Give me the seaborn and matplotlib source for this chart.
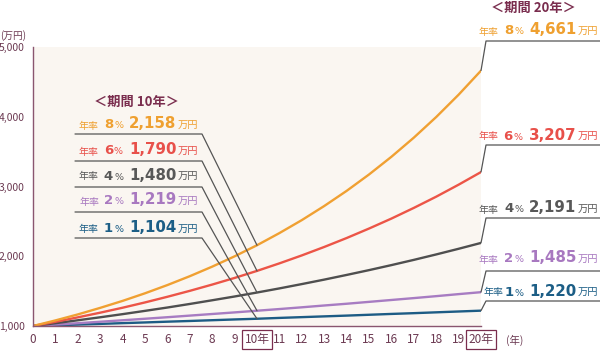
import matplotlib
matplotlib.use("Agg")
import matplotlib.pyplot as plt
import pandas as pd
import seaborn as sns
from matplotlib.offsetbox import TextArea, HPacker, AnnotationBbox, DrawingArea
from matplotlib.lines import Line2D

# ---- data ----
years = list(range(21))
rates = ["1%", "2%", "4%", "6%", "8%"]
v1 = [1000, 1010, 1020, 1030, 1041, 1051, 1062, 1072, 1083, 1094, 1104,
      1116, 1127, 1138, 1149, 1161, 1173, 1184, 1196, 1208, 1220]
v2 = [1000, 1020, 1040, 1061, 1082, 1104, 1126, 1149, 1172, 1195, 1219,
      1243, 1268, 1294, 1319, 1346, 1373, 1400, 1428, 1457, 1485]
v4 = [1000, 1040, 1082, 1125, 1170, 1217, 1265, 1316, 1369, 1423, 1480,
      1539, 1601, 1665, 1732, 1801, 1873, 1948, 2026, 2107, 2191]
v6 = [1000, 1060, 1124, 1191, 1262, 1338, 1419, 1504, 1594, 1689, 1790,
      1898, 2012, 2133, 2261, 2397, 2540, 2693, 2854, 3026, 3207]
v8 = [1000, 1080, 1166, 1260, 1360, 1469, 1587, 1714, 1851, 1999, 2158,
      2332, 2518, 2720, 2937, 3172, 3426, 3700, 3996, 4316, 4661]
series = {"1%": v1, "2%": v2, "4%": v4, "6%": v6, "8%": v8}
x_tick_labels = [str(y) for y in years]
x_tick_labels[10] = "10年"
x_tick_labels[20] = "20年"
y_ticks = [1000, 2000, 3000, 4000, 5000]
y_tick_labels = ["1,000", "2,000", "3,000", "4,000", "5,000"]
label10 = {"8%": "2,158", "6%": "1,790", "4%": "1,480", "2%": "1,219", "1%": "1,104"}
label20 = {"8%": "4,661", "6%": "3,207", "4%": "2,191", "2%": "1,485", "1%": "1,220"}

colors = {"8%": "#F0A032", "6%": "#EC5547", "4%": "#4F4F4F",
          "2%": "#A77CC2", "1%": "#1D5C85"}
text_colors = {"8%": "#EFA030", "6%": "#E8504A", "4%": "#585858",
               "2%": "#A878C0", "1%": "#1C5E86"}
axis_col = "#8A5670"
tick_col = "#6C3A52"
head_col = "#7A2D4E"
lead_col = "#555555"

df = pd.DataFrame([{"year": y, "value": series[r][i], "rate": r}
                   for r in rates for i, y in enumerate(years)])

sns.set_style("white")
plt.rcParams["font.family"] = ["Noto Sans CJK JP", "DejaVu Sans"]

W, H = 600, 359
fig = plt.figure(figsize=(W / 100, H / 100), dpi=100)
ax = fig.add_axes([33 / W, 1 - 326 / H, 448 / W, 279 / H])
ax.set_facecolor("#FAF6F1")

sns.lineplot(data=df, x="year", y="value", hue="rate", palette=colors,
             hue_order=rates, legend=False, linewidth=1.7, ax=ax)

ax.set_xlim(0, 20)
ax.set_ylim(1000, 5000)
ax.set_xlabel("")
ax.set_ylabel("")
ax.set_xticks(years)
ax.set_xticklabels(x_tick_labels)
ax.set_yticks(y_ticks)
ax.set_yticklabels(y_tick_labels)
for s in ["top", "right"]:
    ax.spines[s].set_visible(False)
for s in ["left", "bottom"]:
    ax.spines[s].set_color(axis_col)
    ax.spines[s].set_linewidth(1.0)
ax.tick_params(axis="x", direction="in", length=3, width=0.8, color=axis_col,
               labelcolor=tick_col, labelsize=8.5, pad=5)
ax.tick_params(axis="y", direction="in", length=4, width=0.8, color=axis_col,
               labelcolor=tick_col, labelsize=7.5, pad=6)
for i, t in enumerate(ax.get_xticklabels()):
    if i in (10, 20):
        t.set_bbox(dict(boxstyle="square,pad=0.25", fc="none", ec="#7A2D4E", lw=0.9))

fig.text(0 / W, 1 - 36 / H, "(万円)", fontsize=7, color=tick_col, va="center", ha="left")
fig.text(506 / W, 1 - 340 / H, "(年)", fontsize=7.5, color=tick_col, va="center", ha="left")


def fx(px):
    return px / W


def fy(py):
    return 1 - py / H


def gap(px):
    return DrawingArea(px * 0.72, 1)


def label_box(rate, number, x_right, y_center, first_gap=5):
    c = text_colors[rate]
    parts = [
        TextArea("年率", textprops=dict(fontsize=7.2, color=c)),
        gap(first_gap),
        TextArea(rate[:-1], textprops=dict(fontsize=9.5, color=c, fontweight="bold",
                                            family="DejaVu Sans")),
        gap(1),
        TextArea("%", textprops=dict(fontsize=6.8, color=c, family="DejaVu Sans")),
        gap(6),
        TextArea(number, textprops=dict(fontsize=10.8, color=c, fontweight="bold",
                                         family="DejaVu Sans")),
        gap(1),
        TextArea("万円", textprops=dict(fontsize=7.4, color=c)),
    ]
    pack = HPacker(children=parts, align="baseline", pad=0, sep=0)
    ab = AnnotationBbox(pack, (fx(x_right), fy(y_center)), xycoords="figure fraction",
                        box_alignment=(1, 0.5), frameon=False, pad=0)
    fig.add_artist(ab)


def data_to_fig(x, y):
    disp = ax.transData.transform((x, y))
    return fig.transFigure.inverted().transform(disp)


def polyline(pts):
    xs = [p[0] for p in pts]
    ys = [p[1] for p in pts]
    fig.add_artist(Line2D(xs, ys, color=lead_col, lw=0.9, transform=fig.transFigure,
                          clip_on=False, zorder=5))


# 10-year group
fig.text(fx(137), fy(102), "＜期間 10年＞", fontsize=9.5, fontweight="bold",
         color=head_col, ha="center", va="center")
left_text_y = {"8%": 124, "6%": 150, "4%": 175, "2%": 200, "1%": 228}
left_line_y = {"8%": 134, "6%": 161, "4%": 187, "2%": 212, "1%": 238}
for r in ["8%", "6%", "4%", "2%", "1%"]:
    label_box(r, label10[r], 198, left_text_y[r])
    p = data_to_fig(10, series[r][10])
    polyline([(fx(75), fy(left_line_y[r])), (fx(202), fy(left_line_y[r])), tuple(p)])

# 20-year group
fig.text(fx(533), fy(8), "＜期間 20年＞", fontsize=9.5, fontweight="bold",
         color=head_col, ha="center", va="center")
right_text_y = {"8%": 30, "6%": 135, "4%": 208, "2%": 258, "1%": 291}
right_line_y = {"8%": 41, "6%": 145, "4%": 218, "2%": 271, "1%": 301}
for r in ["8%", "6%", "4%", "2%", "1%"]:
    label_box(r, label20[r], 598, right_text_y[r], first_gap=1 if r == "1%" else 5)
    p = data_to_fig(20, series[r][20])
    polyline([tuple(p), (fx(486), fy(right_line_y[r])), (fx(600), fy(right_line_y[r]))])

fig.savefig("out.png", dpi=100)
